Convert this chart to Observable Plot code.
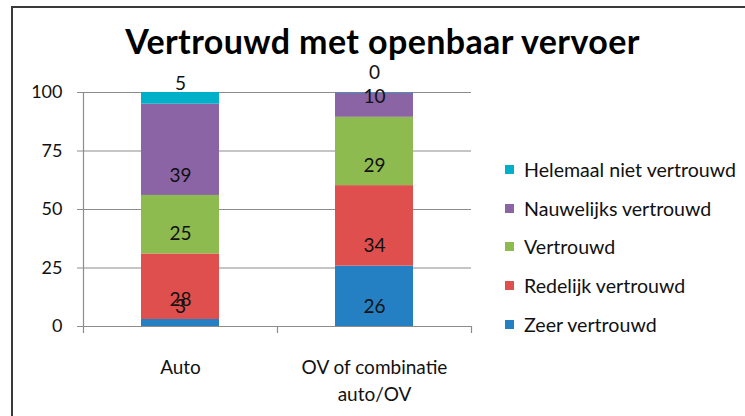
<!DOCTYPE html>
<html>
<head>
<meta charset="utf-8">
<script src="https://cdn.jsdelivr.net/npm/d3@7"></script>
<script src="https://cdn.jsdelivr.net/npm/@observablehq/plot@0.6"></script>
<style>
  html, body { margin: 0; padding: 0; background: #fff; }
  #wrap { position: relative; width: 745px; height: 416px; overflow: hidden; background: #fff; font-family: Lato, "Open Sans", sans-serif; }
  #border { position: absolute; left: 11px; top: 6px; width: 800px; height: 500px; border: 2px solid #3a3a3a; box-sizing: border-box; }
  #title { position: absolute; left: 0; top: 22px; width: 765px; text-align: center; font-weight: bold; font-size: 34px; letter-spacing: 0.4px; line-height: 38px; color: #000; }
  #chart { position: absolute; left: 0; top: 0; }
  #legend { position: absolute; left: 505px; top: 150px; }
  .row { position: relative; height: 38.8px; display: flex; align-items: center; font-size: 19.6px; color: #111; white-space: nowrap; }
  .sw { width: 9px; height: 9px; margin-right: 10px; flex: none; }
</style>
</head>
<body>
<div id="wrap">
  <div id="border"></div>
  <div id="chart"></div>
  <div id="title">Vertrouwd met openbaar vervoer</div>
  <div id="legend"></div>
</div>
<script>
const categories = ["Auto", "OV of combinatie\nauto/OV"];
const series = ["Zeer vertrouwd", "Redelijk vertrouwd", "Vertrouwd", "Nauwelijks vertrouwd", "Helemaal niet vertrouwd"];
const autoValues = [3, 28, 25, 39, 5];
const ovValues = [25.8, 34.4, 29.2, 10.4, 0.2];
const colors = ["#2580C3", "#DF4F4D", "#8EBB4F", "#8B64A5", "#00AFC8"];
const yTicks = [0, 25, 50, 75, 100];

const table = [];
series.forEach((s, i) => {
  table.push({cat: categories[0], series: s, value: autoValues[i]});
  table.push({cat: categories[1], series: s, value: ovValues[i]});
});

const W = 745, H = 416, mL = 83, mR = 274;
const halfStep = (W - mL - mR) / categories.length / 2;

const chart = Plot.plot({
  width: W, height: H,
  marginLeft: mL, marginRight: mR, marginTop: 92, marginBottom: 90,
  style: {fontFamily: "Lato, 'Open Sans', sans-serif", fontSize: "18px", color: "#111", background: "transparent", overflow: "visible"},
  x: {domain: categories, paddingInner: 0.6, paddingOuter: 0.3, label: null},
  y: {domain: [0, 100], ticks: yTicks, label: null},
  color: {domain: series, range: colors},
  marks: [
    Plot.ruleY(yTicks, {stroke: "#8c8c8c", strokeWidth: 1.2}),
    Plot.frame({anchor: "left", stroke: "#8c8c8c", strokeWidth: 1.2}),
    Plot.ruleX(categories, {x: d => d, dx: -halfStep, y1: 0, y2: -3, stroke: "#8c8c8c", strokeWidth: 1.2}),
    Plot.ruleX(categories.slice(-1), {x: d => d, dx: halfStep, y1: 0, y2: -3, stroke: "#8c8c8c", strokeWidth: 1.2}),
    Plot.barY(table, {x: "cat", y: "value", z: "series", fill: "series"}),
    Plot.text(table, Plot.stackY1({x: "cat", y: "value", z: "series", text: d => String(Math.round(d.value)), dy: -20, fontSize: 19, fill: "#111"})),
    Plot.axisY({ticks: yTicks, tickSize: 6, tickPadding: 15, stroke: "#8c8c8c", fill: "#111", fontSize: 18, label: null}),
    Plot.axisX({tickSize: 0, tickPadding: 28, fontSize: 19, lineHeight: 1.42, fill: "#111", label: null})
  ]
});
document.getElementById("chart").appendChild(chart);

const legend = document.getElementById("legend");
series.slice().reverse().forEach(s => {
  const row = document.createElement("div");
  row.className = "row";
  const sw = document.createElement("span");
  sw.className = "sw";
  sw.style.background = colors[series.indexOf(s)];
  const t = document.createElement("span");
  t.textContent = s;
  row.appendChild(sw);
  row.appendChild(t);
  legend.appendChild(row);
});
</script>
</body>
</html>
